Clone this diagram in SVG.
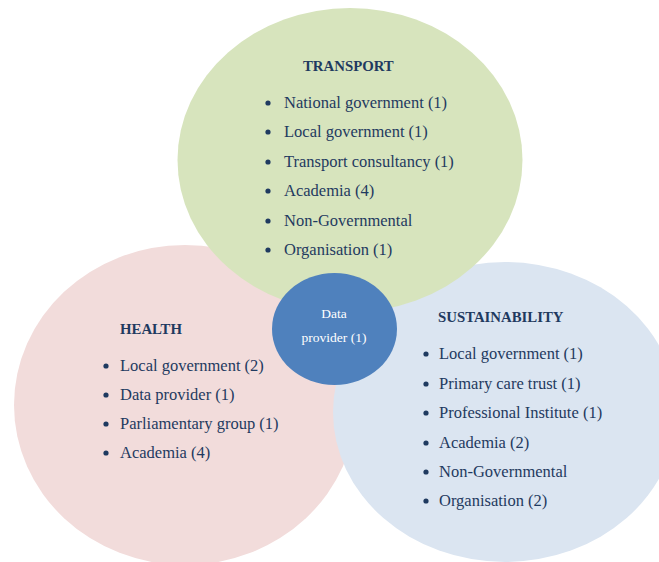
<svg xmlns="http://www.w3.org/2000/svg" width="659" height="562" viewBox="0 0 659 562">
  <style>
    .title { font-family: "Liberation Serif", "Times New Roman", serif; font-weight: bold; font-size: 14.8px; fill: #1f3a60; }
    .item { font-family: "Liberation Serif", "Times New Roman", serif; font-size: 16.5px; fill: #1f3a60; }
    .dot { fill: #1f3a60; }
    .core { font-family: "Liberation Serif", "Times New Roman", serif; font-size: 13.5px; fill: #ffffff; text-anchor: middle; }
  </style>
  <rect width="659" height="562" fill="#ffffff"/>

  <!-- Health set -->
  <g id="health">
    <ellipse cx="185" cy="405" rx="171" ry="160" fill="#f2dcdb"/>
    <text class="title" x="120" y="334">HEALTH</text>
    <g class="dot">
      <circle cx="106" cy="366" r="2.6"/>
      <circle cx="106" cy="395" r="2.6"/>
      <circle cx="106" cy="424" r="2.6"/>
      <circle cx="106" cy="453" r="2.6"/>
    </g>
    <text class="item" x="120" y="371">Local government (2)</text>
    <text class="item" x="120" y="400">Data provider (1)</text>
    <text class="item" x="120" y="429">Parliamentary group (1)</text>
    <text class="item" x="120" y="458">Academia (4)</text>
  </g>

  <!-- Sustainability set -->
  <g id="sustainability">
    <ellipse cx="505" cy="412" rx="172" ry="150" fill="#dbe5f1"/>
    <text class="title" x="438" y="322">SUSTAINABILITY</text>
    <g class="dot">
      <circle cx="426" cy="354" r="2.6"/>
      <circle cx="426" cy="384" r="2.6"/>
      <circle cx="426" cy="413" r="2.6"/>
      <circle cx="426" cy="443" r="2.6"/>
      <circle cx="426" cy="472" r="2.6"/>
      <circle cx="426" cy="501" r="2.6"/>
    </g>
    <text class="item" x="439" y="359">Local government (1)</text>
    <text class="item" x="439" y="389">Primary care trust (1)</text>
    <text class="item" x="439" y="418">Professional Institute (1)</text>
    <text class="item" x="439" y="448">Academia (2)</text>
    <text class="item" x="439" y="477">Non-Governmental</text>
    <text class="item" x="439" y="506">Organisation (2)</text>
  </g>

  <!-- Transport set -->
  <g id="transport">
    <ellipse cx="350" cy="160" rx="172.5" ry="152" fill="#d7e4bd"/>
    <text class="title" x="303" y="71">TRANSPORT</text>
    <g class="dot">
      <circle cx="268" cy="103" r="2.6"/>
      <circle cx="268" cy="132" r="2.6"/>
      <circle cx="268" cy="162" r="2.6"/>
      <circle cx="268" cy="191" r="2.6"/>
      <circle cx="268" cy="221" r="2.6"/>
      <circle cx="268" cy="250" r="2.6"/>
    </g>
    <text class="item" x="284" y="108">National government (1)</text>
    <text class="item" x="284" y="137">Local government (1)</text>
    <text class="item" x="284" y="167">Transport consultancy (1)</text>
    <text class="item" x="284" y="196">Academia (4)</text>
    <text class="item" x="284" y="226">Non-Governmental</text>
    <text class="item" x="284" y="255">Organisation (1)</text>
  </g>

  <!-- Shared core -->
  <g id="data-provider">
    <ellipse cx="334.5" cy="329" rx="62.5" ry="56" fill="#4f81bd"/>
    <text class="core" x="334" y="318">Data</text>
    <text class="core" x="334" y="342">provider (1)</text>
  </g>
</svg>
